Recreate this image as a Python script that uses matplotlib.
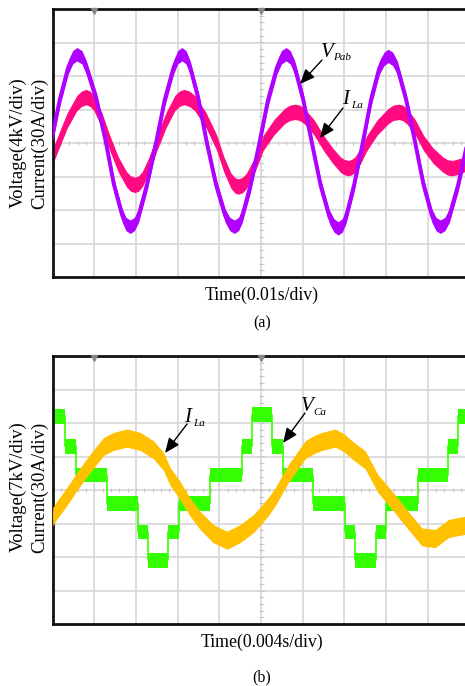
import matplotlib
matplotlib.use("Agg")
import matplotlib.pyplot as plt
import numpy as np

# ---------------- data (divisions on oscilloscope grid) ----------------
# Panel (a)
t_a_v = [0.0, 0.17, 0.37, 0.48, 0.58, 0.70, 0.81, 1.05, 1.28, 1.47, 1.67, 1.76, 1.86, 1.96, 2.06,
         2.26, 2.48, 2.69, 2.90, 3.00, 3.10, 3.20, 3.30, 3.50, 3.70, 3.92, 4.14, 4.25, 4.36, 4.46,
         4.55, 4.75, 4.96, 5.17, 5.38, 5.49, 5.60, 5.70, 5.81, 6.01, 6.22, 6.43, 6.64, 6.75, 6.85,
         6.95, 7.04, 7.23, 7.44, 7.64, 7.84, 7.95, 8.05, 8.16, 8.27, 8.48, 8.70, 8.90, 9.10, 9.20,
         9.30, 9.41, 9.52, 9.73, 9.95, 10.0]
v_pab = [0.25, 1.3, 2.25, 2.56, 2.65, 2.56, 2.25, 1.3, 0.0, -1.25, -2.17, -2.42, -2.5, -2.42, -2.17,
         -1.25, 0.0, 1.3, 2.25, 2.56, 2.65, 2.56, 2.25, 1.3, 0.0, -1.25, -2.17, -2.42, -2.5, -2.42,
         -2.17, -1.25, 0.0, 1.3, 2.25, 2.56, 2.65, 2.56, 2.25, 1.3, 0.0, -1.27, -2.2, -2.46, -2.55,
         -2.46, -2.2, -1.27, 0.0, 1.3, 2.25, 2.51, 2.6, 2.51, 2.25, 1.3, 0.0, -1.25, -2.17, -2.42,
         -2.5, -2.42, -2.17, -1.25, 0.0, 0.3]

t_a_i = [0.0, 0.13, 0.35, 0.58, 0.69, 0.8, 0.9, 0.99, 1.18, 1.37, 1.57, 1.77, 1.87, 1.97, 2.06, 2.15,
         2.32, 2.5, 2.72, 2.93, 3.04, 3.15, 3.28, 3.41, 3.68, 3.94, 4.11, 4.28, 4.37, 4.45, 4.55, 4.65,
         4.85, 5.05, 5.31, 5.56, 5.69, 5.82, 5.93, 6.04, 6.27, 6.5, 6.72, 6.91, 7.0, 7.1, 7.17, 7.25,
         7.39, 7.54, 7.79, 8.05, 8.17, 8.3, 8.4, 8.5, 8.7, 8.9, 9.13, 9.37, 9.48, 9.6, 9.8, 10.0]
i_la_a = [-0.4, 0.0, 0.68, 1.19, 1.32, 1.37, 1.32, 1.19, 0.68, 0.0, -0.63, -1.08, -1.21, -1.25, -1.21, -1.08,
          -0.63, 0.0, 0.68, 1.19, 1.32, 1.37, 1.32, 1.19, 0.68, 0.0, -0.65, -1.13, -1.26, -1.3, -1.26, -1.13,
          -0.65, 0.0, 0.47, 0.8, 0.9, 0.93, 0.9, 0.8, 0.47, 0.0, -0.38, -0.65, -0.72, -0.75, -0.72, -0.65,
          -0.38, 0.0, 0.47, 0.8, 0.9, 0.93, 0.9, 0.8, 0.47, 0.0, -0.38, -0.65, -0.73, -0.75, -0.68, -0.55]

# Panel (b)
t_b_i = [0.0, 0.1, 0.25, 0.42, 0.58, 0.75, 0.9, 1.06, 1.22, 1.46, 1.78, 2.1, 2.42, 2.66, 2.82,
         3.05, 3.29, 3.53, 3.85, 4.18, 4.5, 4.82, 5.0, 5.17, 5.34, 5.5, 5.66, 5.86, 6.06, 6.26,
         6.46, 6.78, 7.0, 7.18, 7.34, 7.5, 7.65, 7.8, 7.97, 8.14, 8.3, 8.46, 8.66, 8.86, 9.18,
         9.5, 9.7, 9.9, 10.0]
i_la_b = [-0.8, -0.6, -0.35, -0.05, 0.25, 0.55, 0.8, 1.05, 1.3, 1.45, 1.55, 1.45, 1.2, 0.85, 0.4,
          0.0, -0.5, -0.9, -1.3, -1.5, -1.3, -1.0, -0.75, -0.5, -0.2, 0.15, 0.5, 0.85, 1.2, 1.35,
          1.45, 1.55, 1.4, 1.2, 1.05, 0.9, 0.55, 0.2, -0.05, -0.3, -0.55, -0.8, -1.1, -1.4, -1.45,
          -1.15, -1.1, -1.05, -1.0]

t_b_v_edges = [0.05, 0.30, 0.56, 1.30, 2.05, 2.29, 2.77, 3.04, 3.78, 4.54, 4.78,
               5.26, 5.53, 6.25, 7.01, 7.25, 7.76, 8.00, 8.77, 9.49, 9.73, 10.0]
v_ca = [2.2, 1.3, 0.45, -0.4, -1.25, -2.1, -1.25, -0.4, 0.45, 1.3,
        2.25, 1.3, 0.45, -0.4, -1.25, -2.1, -1.25, -0.4, 0.45, 1.3, 2.2]

# noise half-widths of the traces (divisions)
noise_pab, noise_ila_a, noise_ila_b, noise_vca = 0.2, 0.23, 0.27, 0.22

# ---------------- style ----------------
plt.rcParams['font.family'] = ['Liberation Serif', 'DejaVu Serif']
PURPLE = '#B000FF'
PINK = '#FF0A80'
GREEN = '#33FF00'
YELLOW = '#FFC000'
GRID = '#dadada'

W, H = 465, 686
fig = plt.figure(figsize=(W / 100, H / 100), dpi=100)


def rect(left, top, right, bottom):
    return [left / W, 1 - bottom / H, (right - left) / W, (bottom - top) / H]


def fx(x):
    return x / W


def fy(y):
    return 1 - y / H


def scope_axes(r):
    ax = fig.add_axes(r)
    ax.set_xlim(0, 10)
    ax.set_ylim(-4, 4)
    ax.set_xticks([])
    ax.set_yticks([])
    for v in range(1, 10):
        ax.axvline(v, color=GRID, lw=1.3, zorder=0)
    for v in range(-3, 4):
        ax.axhline(v, color=GRID, lw=1.3, zorder=0)
    # minor ticks on the centre lines
    xs = np.arange(0.2, 10, 0.2)
    ax.vlines(xs, -0.06, 0.06, color='#c8c8c8', lw=0.8, zorder=0)
    ys = np.arange(-3.8, 4, 0.2)
    ax.hlines(ys, 4.94, 5.06, color='#c8c8c8', lw=0.8, zorder=0)
    for s in ax.spines.values():
        s.set_linewidth(2.0)
        s.set_color('#111111')
    ax.plot([1, 5], [3.93, 3.93], ls='none', marker='v', ms=4, color='#888888',
            clip_on=False, zorder=5)
    return ax


def trace(ax, t, v, hw, color, lw, z):
    t = np.asarray(t)
    v = np.asarray(v)
    ax.fill_between(t, v - hw, v + hw, color=color, lw=0, zorder=z)
    ax.plot(t, v, color=color, lw=lw, zorder=z, solid_joinstyle='round')


# ---------------- panel (a) ----------------
ax1 = scope_axes(rect(52.7, 9, 469.4, 277))
trace(ax1, t_a_i, i_la_a, noise_ila_a, PINK, 2.8, 2)
trace(ax1, t_a_v, v_pab, noise_pab, PURPLE, 2.8, 3)


def arrow(ax, tip, tail):
    ax.annotate('', xy=tip, xytext=tail,
                arrowprops=dict(arrowstyle='-|>,head_length=0.9,head_width=0.38',
                                color='k', lw=1.0, shrinkA=0, shrinkB=0), zorder=6)


def pa(x, y):  # pixel -> data for panel a
    return ((x - 52.7) / 41.67, (143.0 - y) / 33.5)


def pb(x, y):  # pixel -> data for panel b
    return ((x - 52.7) / 41.67, (490.0 - y) / 33.5)


arrow(ax1, pa(300, 84), pa(322, 60))
arrow(ax1, pa(320, 138), pa(343, 108))
fig.text(fx(321), fy(57), 'V', style='italic', fontsize=15)
fig.text(fx(333), fy(60), 'Pab', style='italic', fontsize=8)
fig.text(fx(342), fy(104), 'I', style='italic', fontsize=15)
fig.text(fx(351), fy(108), 'La', style='italic', fontsize=8)

fig.text(fx(18), fy(143), 'Voltage(4kV/div)', rotation=90, ha='center', va='center', fontsize=13.5)
fig.text(fx(40), fy(143), 'Current(30A/div)', rotation=90, ha='center', va='center', fontsize=13.5)
fig.text(fx(262), fy(295), 'Time(0.01s/div)', ha='center', va='center', fontsize=12.8)
fig.text(fx(262), fy(323), '(a)', ha='center', va='center', fontsize=11.5)

# ---------------- panel (b) ----------------
ax2 = scope_axes(rect(52.7, 356, 469.4, 624))
edges = np.asarray(t_b_v_edges)
lev = np.asarray(v_ca + [v_ca[-1]])
ax2.fill_between(edges, lev - noise_vca, lev + noise_vca, step='post', color=GREEN, lw=0, zorder=2)
ax2.step(edges, lev, where='post', color=GREEN, lw=1.2, zorder=2)
trace(ax2, t_b_i, i_la_b, noise_ila_b, YELLOW, 2.8, 3)

arrow(ax2, pb(165, 453), pb(187, 424))
arrow(ax2, pb(283, 443), pb(305, 413))
fig.text(fx(184), fy(422), 'I', style='italic', fontsize=15)
fig.text(fx(193), fy(426), 'La', style='italic', fontsize=8)
fig.text(fx(301), fy(411), 'V', style='italic', fontsize=15)
fig.text(fx(313), fy(415), 'Ca', style='italic', fontsize=8)

fig.text(fx(18), fy(487), 'Voltage(7kV/div)', rotation=90, ha='center', va='center', fontsize=13.5)
fig.text(fx(40), fy(487), 'Current(30A/div)', rotation=90, ha='center', va='center', fontsize=13.5)
fig.text(fx(262), fy(642), 'Time(0.004s/div)', ha='center', va='center', fontsize=12.8)
fig.text(fx(262), fy(677), '(b)', ha='center', va='center', fontsize=11.5)

fig.savefig('out.png', dpi=100)
